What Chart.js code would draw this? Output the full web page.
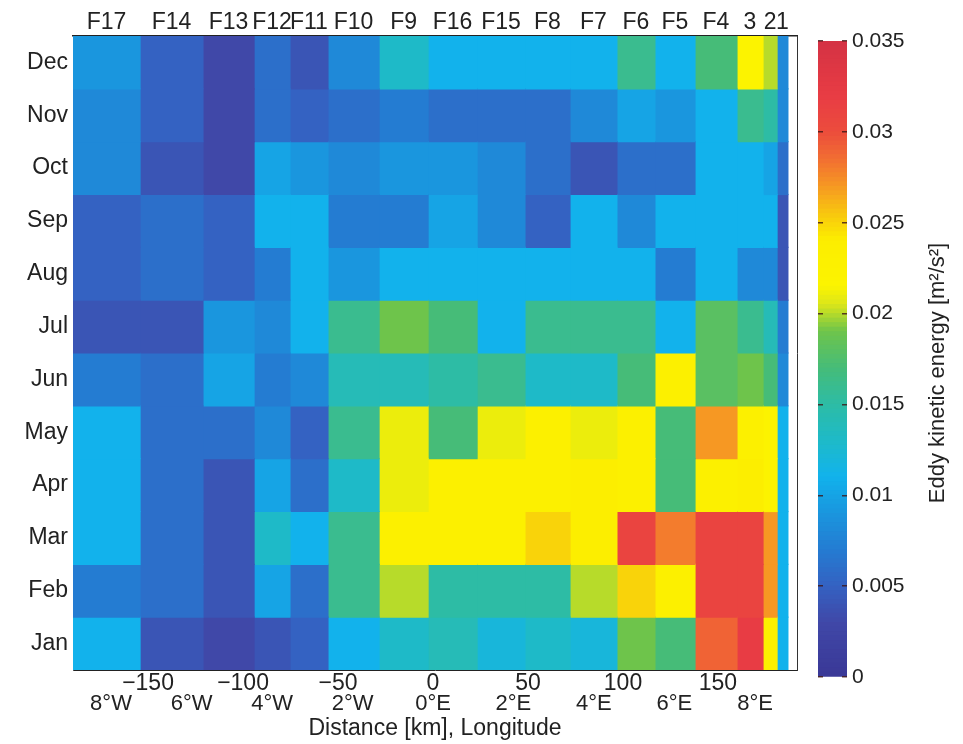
<!DOCTYPE html>
<html><head><meta charset="utf-8">
<script src="https://cdn.jsdelivr.net/npm/chart.js@4.4.1/dist/chart.umd.min.js"></script>
<style>
html,body{margin:0;padding:0;background:#fff;}
#wrap{position:relative;width:963px;height:744px;overflow:hidden;}
#wrap canvas{position:absolute;left:0;top:0;}
</style></head><body>
<div id="wrap"><canvas id="main" width="963" height="744"></canvas><canvas id="cbar" width="963" height="744"></canvas></div>
<script>
// ---------- data ----------
const months = ['Jan','Feb','Mar','Apr','May','Jun','Jul','Aug','Sep','Oct','Nov','Dec'];
const stations = ['F17','F14','F13','F12','F11','F10','F9','F16','F15','F8','F7','F6','F5','F4','3','2','1'];
// cell edges along the section, km
const cellEdgesKm = [-189.5,-154.2,-121.1,-94.2,-75.3,-55.3,-28.4,-2.6,23.2,48.4,72.1,96.8,116.8,137.9,160.0,173.7,181.1,186.8];
const distanceTicksKm = [-150,-100,-50,0,50,100,150];
const longitudeLabels = ['8°W','6°W','4°W','2°W','0°E','2°E','4°E','6°E','8°E'];
const longitudeTicksKm = [-169.5,-127,-84.7,-42.3,0,42.3,84.7,127,169.5];
const colorbarTicks = [0,0.005,0.01,0.015,0.02,0.025,0.03,0.035];
// eddy kinetic energy, m^2/s^2, per month, stations in order above
const ekeJan = [0.011,0.004,0.003,0.004,0.005,0.011,0.013,0.014,0.012,0.013,0.012,0.019,0.017,0.029,0.032,0.023,0.011];
const ekeFeb = [0.007,0.006,0.004,0.010,0.006,0.016,0.020,0.015,0.015,0.015,0.020,0.025,0.023,0.031,0.031,0.027,0.011];
const ekeMar = [0.011,0.006,0.004,0.013,0.011,0.016,0.023,0.023,0.023,0.025,0.024,0.031,0.028,0.031,0.031,0.027,0.011];
const ekeApr = [0.011,0.006,0.004,0.010,0.006,0.013,0.021,0.023,0.023,0.023,0.024,0.023,0.017,0.023,0.024,0.022,0.011];
const ekeMay = [0.011,0.006,0.006,0.008,0.005,0.016,0.021,0.017,0.021,0.023,0.021,0.023,0.017,0.027,0.023,0.022,0.011];
const ekeJun = [0.007,0.006,0.010,0.007,0.008,0.014,0.014,0.015,0.016,0.013,0.013,0.017,0.023,0.018,0.019,0.017,0.008];
const ekeJul = [0.004,0.004,0.009,0.008,0.011,0.016,0.019,0.017,0.011,0.016,0.016,0.016,0.011,0.018,0.016,0.014,0.007];
const ekeAug = [0.005,0.006,0.005,0.007,0.011,0.009,0.011,0.011,0.011,0.011,0.011,0.011,0.007,0.011,0.008,0.008,0.004];
const ekeSep = [0.005,0.006,0.005,0.011,0.011,0.007,0.007,0.010,0.008,0.005,0.011,0.008,0.011,0.011,0.011,0.011,0.004];
const ekeOct = [0.008,0.004,0.003,0.010,0.009,0.008,0.009,0.009,0.008,0.006,0.004,0.006,0.006,0.011,0.011,0.010,0.006];
const ekeNov = [0.008,0.005,0.003,0.006,0.005,0.006,0.007,0.006,0.006,0.006,0.008,0.010,0.009,0.011,0.016,0.015,0.008];
const ekeDec = [0.009,0.005,0.003,0.006,0.004,0.008,0.013,0.011,0.011,0.011,0.011,0.016,0.011,0.017,0.022,0.020,0.008];
const ekeByMonth = [ekeJan,ekeFeb,ekeMar,ekeApr,ekeMay,ekeJun,ekeJul,ekeAug,ekeSep,ekeOct,ekeNov,ekeDec];

// ---------- colour map ----------
const cmapStops = [
  [0.000,[58,56,150]],[0.003,[64,72,168]],[0.005,[52,98,194]],[0.007,[36,124,210]],
  [0.009,[26,150,222]],[0.011,[18,178,236]],[0.013,[30,186,200]],[0.015,[45,188,165]],
  [0.017,[70,188,120]],[0.019,[110,196,75]],[0.0205,[220,230,25]],[0.0215,[252,244,0]],
  [0.024,[252,238,0]],[0.0255,[248,198,15]],[0.027,[246,152,35]],[0.0285,[242,110,50]],
  [0.030,[236,76,60]],[0.032,[232,60,68]],[0.035,[212,50,68]]
];
function colorFor(v){
  if (v <= cmapStops[0][0]) return 'rgb('+cmapStops[0][1].join(',')+')';
  for (let i=1;i<cmapStops.length;i++){
    const [v1,c1]=cmapStops[i], [v0,c0]=cmapStops[i-1];
    if (v <= v1){
      const t=(v-v0)/(v1-v0);
      return 'rgb('+c0.map((c,k)=>Math.round(c+(c1[k]-c)*t)).join(',')+')';
    }
  }
  return 'rgb('+cmapStops[cmapStops.length-1][1].join(',')+')';
}

const FONT = '"Liberation Sans", Arial, Helvetica, sans-serif';
const TXT = '#222';
const xMin = -189.5, xMax = 191.6;

// ---------- main heatmap ----------
const datasets = stations.map((name, s) => ({
  label: name,
  data: months.map(() => [cellEdgesKm[s], cellEdgesKm[s+1]]),
  backgroundColor: ekeByMonth.map(row => colorFor(row[s])),
  borderWidth: 0, borderSkipped: false, grouped: false,
  barPercentage: 1, categoryPercentage: 1, inflateAmount: 0.6,
  xAxisID: 'x', yAxisID: 'y'
}));
const stationCenters = stations.map((_, s) => (cellEdgesKm[s] + cellEdgesKm[s+1]) / 2);

new Chart(document.getElementById('main'), {
  type: 'bar',
  data: { labels: months, datasets },
  options: {
    indexAxis: 'y', responsive: false, animation: false, devicePixelRatio: 1,
    layout: { padding: 0 },
    plugins: { legend: { display: false }, tooltip: { enabled: false } },
    scales: {
      x: {
        type: 'linear', position: 'bottom', min: xMin, max: xMax, weight: 0,
        afterBuildTicks: s => { s.ticks = distanceTicksKm.map(v => ({ value: v })); },
        ticks: { callback: v => (v < 0 ? '\u2212' + Math.abs(v) : String(v)), font: { family: FONT, size: 23 }, color: TXT, padding: 0, maxRotation: 0, minRotation: 0, autoSkip: false },
        grid: { display: false, drawTicks: false },
        border: { display: true, color: '#222', width: 1 },
        afterFit: s => { s.height = 21; }
      },
      xLon: {
        type: 'linear', position: 'bottom', min: xMin, max: xMax, weight: 1,
        afterBuildTicks: s => { s.ticks = longitudeTicksKm.map(v => ({ value: v })); },
        ticks: { callback: (v, i) => longitudeLabels[i], font: { family: FONT, size: 22 }, color: TXT, padding: 0, maxRotation: 0, minRotation: 0, autoSkip: false },
        grid: { display: false, drawTicks: false },
        border: { display: false },
        title: { display: true, text: 'Distance [km], Longitude', font: { family: FONT, size: 23 }, color: TXT, padding: { top: 0, bottom: 2 } },
        afterFit: s => { s.height = 53; }
      },
      xTop: {
        type: 'linear', position: 'top', min: xMin, max: xMax,
        afterBuildTicks: s => { s.ticks = stationCenters.map(v => ({ value: v })); },
        ticks: { callback: (v, i) => stations[i], font: { family: FONT, size: 23 }, color: TXT, padding: 0, maxRotation: 0, minRotation: 0, autoSkip: false },
        grid: { display: false, drawTicks: false },
        border: { display: true, color: '#222', width: 1.5 },
        afterFit: s => { s.height = 36; }
      },
      y: {
        type: 'category', position: 'left', reverse: true,
        ticks: { font: { family: FONT, size: 23 }, color: TXT, padding: 5 },
        grid: { display: false, drawTicks: false },
        border: { display: true, color: '#555', width: 1 },
        afterFit: s => { s.width = 73; }
      },
      yR: {
        type: 'linear', position: 'right', display: true, min: 0, max: 1,
        ticks: { display: false },
        grid: { display: false, drawTicks: false },
        border: { display: true, color: '#333', width: 1 },
        afterFit: s => { s.width = 166; }
      }
    }
  }
});

// ---------- colour bar ----------
const cbarStep = 0.00025;
const cbarLevels = [];
for (let v = 0; v < 0.035 - 1e-9; v += cbarStep) cbarLevels.push(v);
const cbarTitle = 'Eddy kinetic energy [m\u00B2/s\u00B2]';
const cbarTitlePlugin = {
  id: 'cbarTitle',
  afterDraw(chart) {
    const { ctx, chartArea } = chart;
    const ys = chart.scales.y;
    ctx.save();
    ctx.translate(ys.right - 25, (chartArea.top + chartArea.bottom) / 2 + 14);
    ctx.rotate(-Math.PI / 2);
    ctx.font = '22px ' + FONT;
    ctx.fillStyle = TXT;
    ctx.textAlign = 'center';
    ctx.textBaseline = 'middle';
    ctx.fillText(cbarTitle, 0, 0);
    ctx.restore();
  }
};
new Chart(document.getElementById('cbar'), {
  type: 'bar',
  data: {
    labels: [''],
    datasets: cbarLevels.map(v => ({
      data: [cbarStep], backgroundColor: colorFor(v + cbarStep / 2),
      borderWidth: 0, stack: 'cb', barPercentage: 1, categoryPercentage: 1, inflateAmount: 0.5
    }))
  },
  options: {
    responsive: false, animation: false, devicePixelRatio: 1,
    layout: { padding: { left: 818, top: 41, bottom: 67, right: 0 } },
    plugins: { legend: { display: false }, tooltip: { enabled: false } },
    scales: {
      x: { display: false, stacked: true },
      y: {
        type: 'linear', position: 'right', stacked: true, min: 0, max: 0.035,
        afterBuildTicks: s => { s.ticks = colorbarTicks.map(v => ({ value: v })); },
        ticks: { callback: v => String(+v.toFixed(3)), font: { family: FONT, size: 21 }, color: TXT, padding: 5 },
        grid: { display: true, drawTicks: false, color: 'rgba(60,20,20,0.8)', lineWidth: 1.5, z: 1 },
        border: { display: false, dash: [5, 19] },
        afterFit: s => { s.width = 116; }
      }
    }
  },
  plugins: [cbarTitlePlugin]
});
</script>
</body></html>
